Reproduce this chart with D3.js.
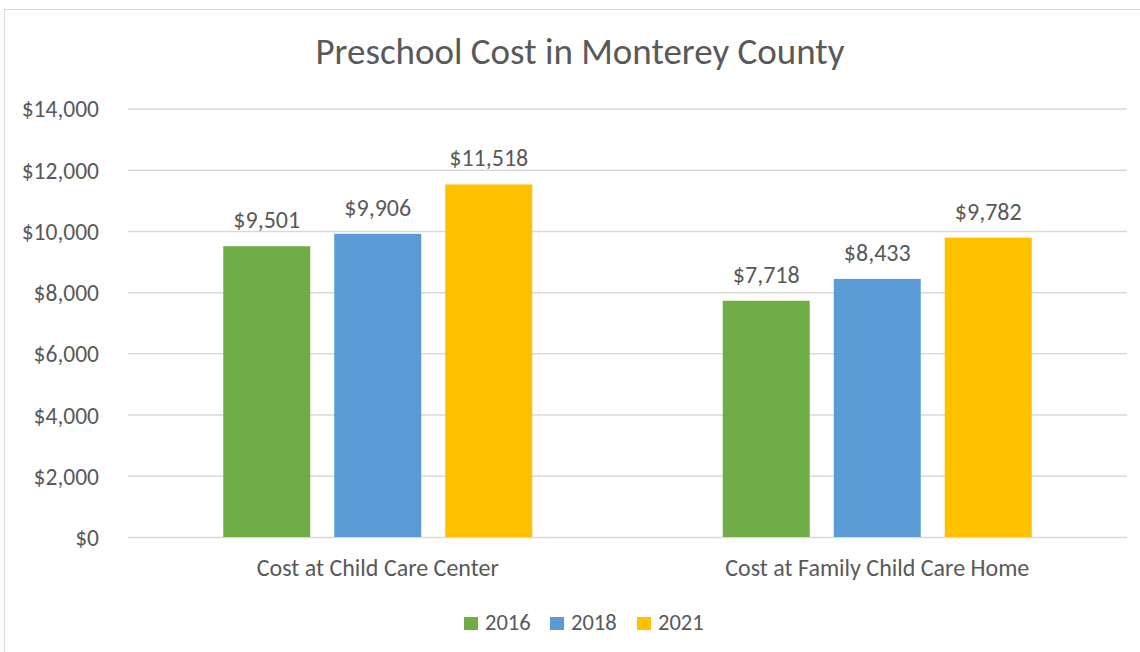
<!DOCTYPE html>
<html>
<head>
<meta charset="utf-8">
<script src="https://cdn.jsdelivr.net/npm/d3@7"></script>
<style>
  body { margin: 0; background: #fff; }
  svg text { font-family: Calibri, Carlito, Lato, sans-serif; fill: #595959; }
</style>
</head>
<body>
<div class="graph"></div>
<script>
// chart values
const title = "Preschool Cost in Monterey County";
const categories = ["Cost at Child Care Center", "Cost at Family Child Care Home"];
const years = ["2016", "2018", "2021"];
const cost2016 = [9501, 7718];
const cost2018 = [9906, 8433];
const cost2021 = [11518, 9782];
const yTicks = [0, 2000, 4000, 6000, 8000, 10000, 12000, 14000];
const colors = ["#70AD47", "#5B9BD5", "#FFC000"];

const series = [cost2016, cost2018, cost2021];

const W = 1140, H = 652;
const plotLeft = 128, plotRight = 1127, plotTop = 108.5, plotBottom = 537;

const svg = d3.select(".graph").append("svg").attr("width", W).attr("height", H);

// outer chart border (runs off right/bottom edge like the screenshot)
svg.append("rect")
    .attr("x", 4.5).attr("y", 9.5)
    .attr("width", W + 20).attr("height", H + 20)
    .attr("fill", "none").attr("stroke", "#D9D9D9").attr("stroke-width", 1);

svg.append("text")
    .attr("x", 580).attr("y", 64)
    .attr("text-anchor", "middle")
    .style("font-size", "37px")
    .text(title);

const y = d3.scaleLinear().domain([0, 14000]).range([plotBottom, plotTop]);
const x0 = d3.scaleBand().domain(categories).range([plotLeft, plotRight]).padding(0);
const x1 = d3.scaleBand().domain(years).range([0, x0.bandwidth()])
    .paddingInner(24 / 111).paddingOuter(0.858);

const fmt = d3.format("$,");

// gridlines + y labels
const yaxis = d3.axisLeft(y).tickValues(yTicks).tickSize(-(plotRight - plotLeft)).tickFormat(fmt).tickPadding(29);
const ga = svg.append("g").attr("transform", "translate(" + plotLeft + ",0)").call(yaxis);
ga.select(".domain").remove();
ga.selectAll("line").attr("stroke", "#D9D9D9").attr("stroke-width", 1.5);
ga.selectAll("text").style("font-size", "23.5px").attr("fill", "#595959").attr("dy", "0.36em");

// bars
const groups = svg.append("g").selectAll("g")
    .data(categories)
    .join("g")
    .attr("transform", d => "translate(" + x0(d) + ",0)");

groups.selectAll("rect")
    .data((c, ci) => years.map((yr, i) => ({ yr, i, v: series[i][ci] })))
    .join("rect")
    .attr("x", d => x1(d.yr))
    .attr("width", x1.bandwidth())
    .attr("y", d => y(d.v))
    .attr("height", d => y(0) - y(d.v))
    .attr("fill", d => colors[d.i]);

groups.selectAll(".lbl")
    .data((c, ci) => years.map((yr, i) => ({ yr, i, v: series[i][ci] })))
    .join("text")
    .attr("class", "lbl")
    .attr("x", d => x1(d.yr) + x1.bandwidth() / 2)
    .attr("y", d => y(d.v) - 18)
    .attr("text-anchor", "middle")
    .style("font-size", "24px")
    .text(d => fmt(d.v));

// category labels
svg.append("g").selectAll("text")
    .data(categories)
    .join("text")
    .attr("x", d => x0(d) + x0.bandwidth() / 2)
    .attr("y", 576)
    .attr("text-anchor", "middle")
    .style("font-size", "24px")
    .text(d => d);

// legend
const legendX = [464, 550, 637];
const lg = svg.append("g").selectAll("g")
    .data(years)
    .join("g")
    .attr("transform", (d, i) => "translate(" + legendX[i] + ",617)");
lg.append("rect").attr("width", 14).attr("height", 13).attr("fill", (d, i) => colors[i]);
lg.append("text").attr("x", 21).attr("y", 13).style("font-size", "22.5px").text(d => d);
</script>
</body>
</html>
